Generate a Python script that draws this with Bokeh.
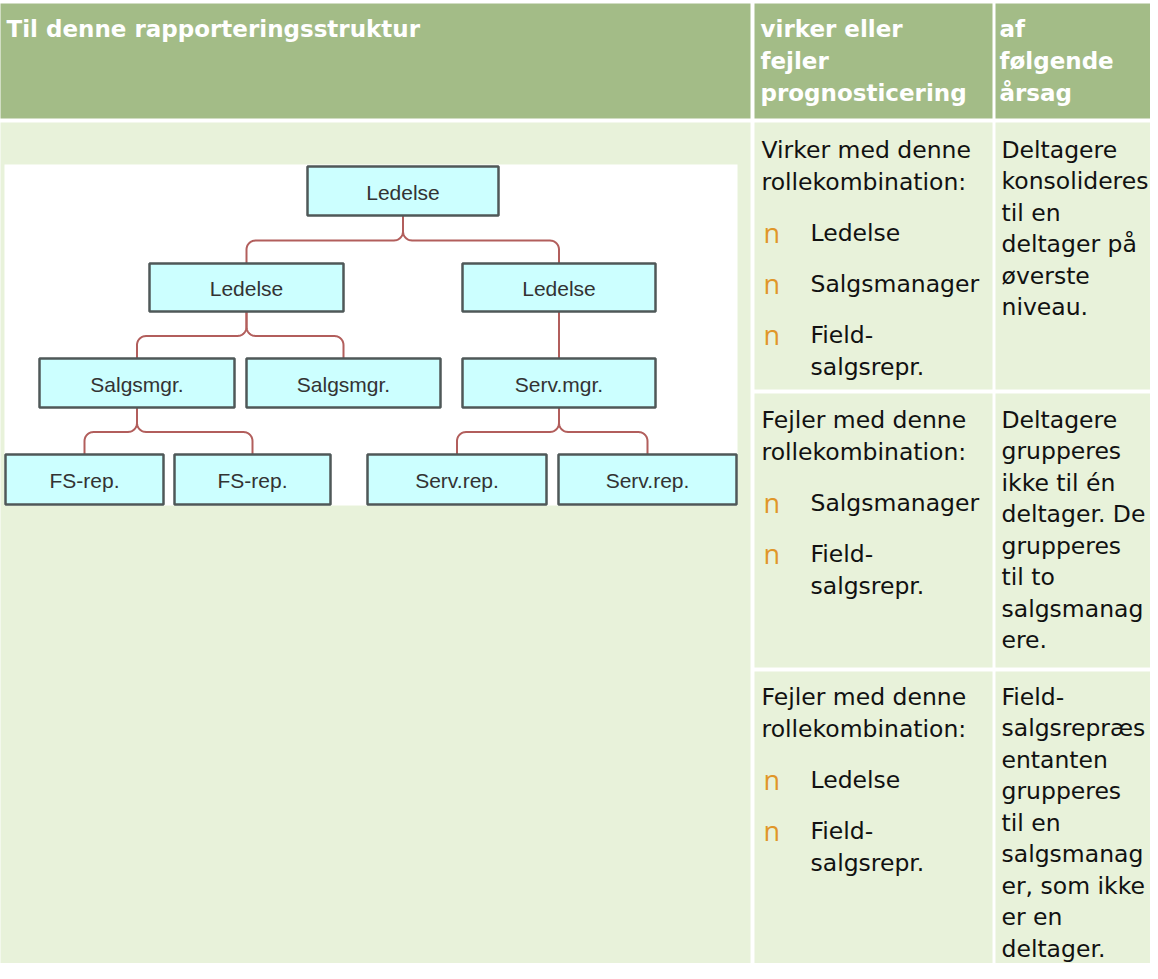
from bokeh.plotting import figure
from bokeh.models import Range1d
from bokeh.embed import file_html
from bokeh.resources import INLINE
from bokeh.core.properties import value
import numpy as np

# ---------------- data ----------------
header_col1 = ["Til denne rapporteringsstruktur"]
header_col2 = ["virker eller", "fejler", "prognosticering"]
header_col3 = ["af", "følgende", "årsag"]

row_intros = [
    ["Virker med denne", "rollekombination:"],
    ["Fejler med denne", "rollekombination:"],
    ["Fejler med denne", "rollekombination:"],
]
row_bullets = [
    [["Ledelse"], ["Salgsmanager"], ["Field-", "salgsrepr."]],
    [["Salgsmanager"], ["Field-", "salgsrepr."]],
    [["Ledelse"], ["Field-", "salgsrepr."]],
]
row_reasons = [
    ["Deltagere", "konsolideres", "til en", "deltager på", "øverste", "niveau."],
    ["Deltagere", "grupperes", "ikke til én", "deltager. De", "grupperes",
     "til to", "salgsmanag", "ere."],
    ["Field-", "salgsrepræs", "entanten", "grupperes", "til en", "salgsmanag",
     "er, som ikke", "er en", "deltager."],
]

org_labels = ["Ledelse", "Ledelse", "Ledelse", "Salgsmgr.", "Salgsmgr.",
              "Serv.mgr.", "FS-rep.", "FS-rep.", "Serv.rep.", "Serv.rep."]
org_parent = [-1, 0, 0, 1, 1, 2, 3, 3, 5, 5]
org_level = [0, 1, 1, 2, 2, 2, 3, 3, 3, 3]

# ---------------- layout ----------------
W, H = 1150, 963
X0, Y0 = 8, 8
col_x = [(6, 758), (762, 1000), (1003, 1170)]
header_y = (11, 126)
row_y = [(130, 397), (401, 675), (679, 972)]
img_box = (12, 745, 172, 513)
box_left = [315, 157, 470, 47, 254, 470, 13, 182, 375, 566]
box_right = [506, 351, 663, 242, 448, 663, 171, 338, 554, 744]
level_top = [174, 271, 366, 462]
level_bottom = [223, 319, 415, 512]
row_base = [157, 427, 704]

HEAD_BG = "#A3BC87"
BODY_BG = "#E8F2DA"
BULLET = "#E09628"
FONT = "DejaVu Sans"

p = figure(width=W, height=H, output_backend="svg", toolbar_location=None,
           x_range=Range1d(X0, X0 + W), y_range=Range1d(Y0 + H, Y0),
           x_axis_location=None, y_axis_location=None, min_border=0,
           tools="")
p.grid.visible = False
p.outline_line_color = None
p.background_fill_color = "white"
p.border_fill_color = "white"

# table cells
lefts, rights, tops, bottoms, fills = [], [], [], [], []
for (a, b) in col_x:
    lefts.append(a); rights.append(b); tops.append(header_y[0]); bottoms.append(header_y[1]); fills.append(HEAD_BG)
lefts.append(col_x[0][0]); rights.append(col_x[0][1]); tops.append(row_y[0][0]); bottoms.append(row_y[-1][1]); fills.append(BODY_BG)
for (t, b) in row_y:
    for c in (1, 2):
        lefts.append(col_x[c][0]); rights.append(col_x[c][1]); tops.append(t); bottoms.append(b); fills.append(BODY_BG)
p.quad(left=lefts, right=rights, top=tops, bottom=bottoms, fill_color=fills, line_color=None)

# image background
p.quad(left=[img_box[0]], right=[img_box[1]], top=[img_box[2]], bottom=[img_box[3]],
       fill_color="white", line_color=None)

# connectors
def arc(cx, cy, r, a0, a1, n=10):
    t = np.linspace(a0, a1, n)
    return list(cx + r * np.cos(t)), list(cy + r * np.sin(t))

R = 9
xs_all, ys_all = [], []
centers = [(l + r) / 2 for l, r in zip(box_left, box_right)]
for pi in range(len(org_labels)):
    kids = [i for i, pp in enumerate(org_parent) if pp == pi]
    if not kids:
        continue
    px = centers[pi]
    y_from = level_bottom[org_level[pi]]
    y_to = level_top[org_level[kids[0]]]
    yh = (y_from + y_to) / 2 + 1
    if len(kids) == 1:
        xs_all.append([px, px]); ys_all.append([y_from, y_to])
        continue
    for k in kids:
        cx = centers[k]
        s = 1 if cx > px else -1
        xs = [px, px]
        ys = [y_from, yh - R]
        ax, ay = arc(px + s * R, yh - R, R, np.pi if s > 0 else 0, np.pi / 2)
        xs += ax; ys += ay
        bx, by = arc(cx - s * R, yh + R, R, -np.pi / 2, 0 if s > 0 else -np.pi)
        xs += bx; ys += by
        xs += [cx]; ys += [y_to]
        xs_all.append(xs); ys_all.append(ys)
p.multi_line(xs_all, ys_all, line_color="#B25E5C", line_width=2)

# boxes
p.quad(left=box_left, right=box_right,
       top=[level_top[l] for l in org_level], bottom=[level_bottom[l] for l in org_level],
       fill_color="#CCFFFF", line_color="#4F5858", line_width=2.5)
p.text(x=centers, y=[(level_top[l] + level_bottom[l]) / 2 + 1 for l in org_level], text=org_labels,
       text_font=value("Liberation Sans"), text_font_size="21px", text_color="#333333",
       text_align="center", text_baseline="middle")

# header texts
LH = 32
hx, hy, ht = [], [], []
for c, lines in enumerate([header_col1, header_col2, header_col3]):
    xpos = [14, 768, 1007][c]
    for i, s in enumerate(lines):
        hx.append(xpos); hy.append(36 + i * LH); ht.append(s)
p.text(x=hx, y=hy, text=ht, text_font=value(FONT), text_font_style="bold",
       text_font_size="23px", text_color="white", text_baseline="alphabetic")

# body texts
bx, by, bt = [], [], []
nx, ny = [], []
for r in range(3):
    y = row_base[r]
    for i, s in enumerate(row_intros[r]):
        bx.append(769); by.append(y + i * LH); bt.append(s)
    y = y + (len(row_intros[r]) - 1) * LH
    for item in row_bullets[r]:
        y += 51
        nx.append(771); ny.append(y)
        for j, s in enumerate(item):
            bx.append(818); by.append(y + j * LH); bt.append(s)
        y += (len(item) - 1) * LH
    for i, s in enumerate(row_reasons[r]):
        bx.append(1009); by.append(row_base[r] + i * 31.5); bt.append(s)
p.text(x=bx, y=by, text=bt, text_font=value(FONT), text_font_size="23.5px",
       text_color="#111111", text_baseline="alphabetic")
p.text(x=nx, y=ny, text=["n"] * len(nx), text_font=value("Open Sans"), text_font_size="27px",
       text_color=BULLET, text_baseline="alphabetic")

open("out.html", "w").write(file_html(p, INLINE))
